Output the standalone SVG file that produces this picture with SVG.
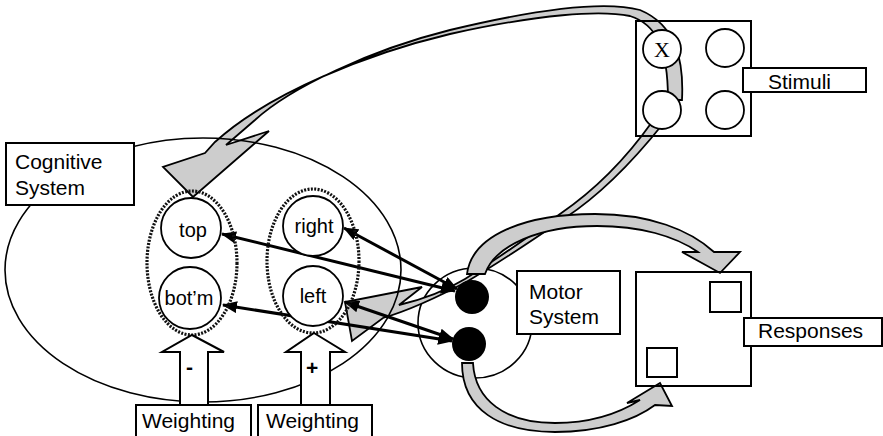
<svg xmlns="http://www.w3.org/2000/svg" width="883" height="436" viewBox="0 0 883 436">
<style>
.ln{fill:none;stroke:#000;stroke-width:1.6}
.box{fill:#fff;stroke:#000;stroke-width:2}
.wc{fill:#fff;stroke:#000;stroke-width:1.8}
.dot{fill:#000;stroke:none}
.dotted{fill:none;stroke:#111;stroke-width:3.2;stroke-dasharray:2 1.4}
.grey{fill:#cdcdcd;stroke:#000;stroke-width:1.8;stroke-linejoin:miter}
.arr{fill:none;stroke:#000;stroke-width:3;marker-start:url(#ah);marker-end:url(#ah)}
.t{font-family:"Liberation Sans",Arial,sans-serif;font-size:21px;fill:#000}
.tc{font-family:"Liberation Sans",Arial,sans-serif;font-size:20px;fill:#000;text-anchor:middle}
.wa{fill:#fff;stroke:#000;stroke-width:2;stroke-linejoin:miter}
</style>
<defs>
<marker id="ah" markerUnits="userSpaceOnUse" markerWidth="15" markerHeight="12" refX="14" refY="6" orient="auto-start-reverse">
<path d="M0,0 L15,6 L0,12 Z" fill="#000"/>
</marker>
</defs>
<rect width="883" height="436" fill="#fff"/>

<g id="motor-circle">
<ellipse class="ln" cx="475" cy="323" rx="57" ry="55"/>
</g>

<g id="connectors">
<path class="grey" d="M682,100 C684,60 676,25 640,10 C610,2 550,6 450,30 C370,50 290,88 255,120 L226,145 L269,131 L193,197 L163,167 L205,153 L215,142 C270,92 370,53 450,34 C540,14 600,10 630,16 C655,24 668,45 668,100 Z"/>
<path class="grey" d="M662,125 C630,165 600,195 565,218 C530,242 495,265 468,281 C440,296 410,310 383,318 L352,341 L345,302 L422,287 L399,305 C425,299 445,291 465,279 C500,257 530,236 560,214 C595,190 625,160 652,122 Z"/>
<path class="grey" d="M467,274 C472,235 525,214 595,214 C650,214 690,230 714,252 L740,252 L720,273 L682,252 L698,252 C675,236 640,226 597,226 C540,226 495,245 485,274 Z"/>
<path class="grey" d="M462,363 C462,410 500,432 555,432 C600,432 635,420 655,405 L672,406 L660,383 L627,403 L640,400 C618,414 590,423 555,423 C505,423 475,400 473,363 Z"/>
<line class="arr" x1="222" y1="234" x2="455" y2="291"/>
<line class="arr" x1="344" y1="228" x2="457" y2="289"/>
<line class="arr" x1="223" y1="305" x2="452" y2="341"/>
<line class="arr" x1="345" y1="302" x2="453" y2="339"/>
</g>

<g id="cognitive-system">
<ellipse class="ln" cx="203" cy="270" rx="198" ry="132"/>
<rect class="box" x="6" y="143" width="128" height="62"/>
<text class="t" x="15" y="169">Cognitive</text>
<text class="t" x="15" y="195">System</text>
</g>

<g id="vertical-group">
<ellipse class="dotted" cx="192" cy="263" rx="45" ry="72"/>
</g>
<g id="horizontal-group">
<ellipse class="dotted" cx="313" cy="261" rx="46" ry="72"/>
</g>

<g id="node-top">
<circle class="wc" cx="191" cy="228" r="30"/>
<text class="tc" x="193" y="237">top</text>
</g>
<g id="node-botm">
<circle class="wc" cx="190" cy="298" r="31"/>
<text class="tc" x="189" y="305">bot’m</text>
</g>
<g id="node-right">
<circle class="wc" cx="313" cy="226" r="30"/>
<text class="tc" x="314" y="233">right</text>
</g>
<g id="node-left">
<circle class="wc" cx="313" cy="296" r="30"/>
<text class="tc" x="313" y="303">left</text>
</g>

<g id="motor-system">
<circle class="dot" cx="472" cy="297" r="17"/>
<circle class="dot" cx="469" cy="344" r="17"/>
<rect class="box" x="517" y="271" width="103" height="63"/>
<text class="t" x="529" y="299">Motor</text>
<text class="t" x="529" y="324">System</text>
</g>

<g id="stimuli">
<rect class="ln" x="636" y="21" width="115" height="115" style="stroke-width:2"/>
<circle class="wc" cx="662" cy="49" r="19"/>
<text x="662" y="57" style="font-family:'Liberation Serif','Times New Roman',serif;font-size:22px;text-anchor:middle">X</text>
<circle class="wc" cx="725" cy="48" r="19"/>
<circle class="wc" cx="662" cy="110" r="19"/>
<circle class="wc" cx="725" cy="110" r="19"/>
<rect class="box" x="743" y="68" width="123" height="24"/>
<text class="t" x="768" y="89">Stimuli</text>
</g>

<g id="responses">
<rect class="ln" x="636" y="272" width="115" height="114" style="stroke-width:2"/>
<rect class="ln" x="710" y="282" width="31" height="30" style="stroke-width:2"/>
<rect class="ln" x="647" y="348" width="30" height="29" style="stroke-width:2"/>
<rect class="box" x="744" y="318" width="138" height="28"/>
<text class="t" x="758" y="338">Responses</text>
</g>

<g id="weighting-minus">
<path class="wa" d="M192,335 L224,352 L208,352 L208,405 L180,405 L180,352 L162,352 Z"/>
<text class="t" x="186" y="374" style="font-weight:bold">-</text>
<rect class="box" x="136" y="405" width="115" height="40"/>
<text class="t" x="142" y="428">Weighting</text>
</g>
<g id="weighting-plus">
<path class="wa" d="M314,333 L345,352 L330,352 L330,405 L301,405 L301,352 L286,352 Z"/>
<text class="t" x="306" y="375" style="font-weight:bold">+</text>
<rect class="box" x="258" y="405" width="114" height="40"/>
<text class="t" x="266" y="428">Weighting</text>
</g>
</svg>
